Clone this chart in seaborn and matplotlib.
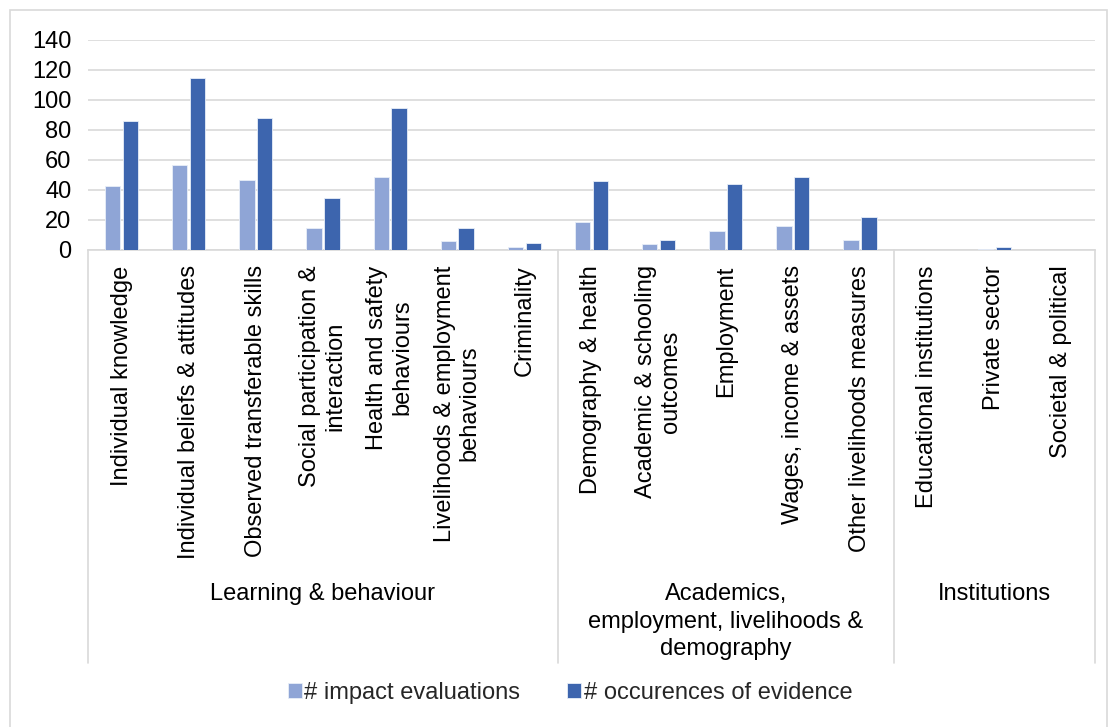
import pandas as pd
import matplotlib.pyplot as plt
import seaborn as sns
from matplotlib.patches import Rectangle

# chart data
categories = [
    "Individual knowledge", "Individual beliefs & attitudes", "Observed transferable skills",
    "Social participation &\ninteraction", "Health and safety\nbehaviours",
    "Livelihoods & employment\nbehaviours", "Criminality",
    "Demography & health", "Academic & schooling\noutcomes", "Employment",
    "Wages, income & assets", "Other livelihoods measures",
    "Educational institutions", "Private sector", "Societal & political",
]
impact_evaluations = [43, 57, 47, 15, 49, 6, 2, 19, 4, 13, 16, 7, 0, 1, 0]
occurences_of_evidence = [86, 115, 88, 35, 95, 15, 5, 46, 7, 44, 49, 22, 0, 2, 0]
groups = ["Learning & behaviour", "Academics,\nemployment, livelihoods &\ndemography", "Institutions"]
group_sizes = [7, 5, 3]
series_names = ["# impact evaluations", "# occurences of evidence"]

df = pd.DataFrame({
    "category": categories * 2,
    "value": impact_evaluations + occurences_of_evidence,
    "series": [series_names[0]] * len(categories) + [series_names[1]] * len(categories),
})

sns.set_theme(style="white")
plt.rcParams["font.family"] = ["Liberation Sans", "DejaVu Sans"]
fs = 17
grey = "#D9D9D9"

fig = plt.figure(figsize=(11.09, 7.27), dpi=100)
W, H = 1109, 727
ax = fig.add_axes([88 / W, 1 - 250 / H, (1095 - 88) / W, 210 / H])

sns.barplot(data=df, x="category", y="value", hue="series", order=categories,
            palette=["#8FA5D6", "#3D65AE"], saturation=1, width=0.53, gap=0.14,
            edgecolor="#E8EEF8", linewidth=0.6, ax=ax, zorder=3)

ax.set_xlim(-0.5, len(categories) - 0.5)
ax.set_ylim(0, 140)
ax.set_yticks(range(0, 141, 20))
ax.yaxis.grid(True, color=grey, linewidth=1.2, zorder=0)
ax.set_axisbelow(True)
ax.set_xlabel("")
ax.set_ylabel("")
for s in ["left", "top", "right"]:
    ax.spines[s].set_visible(False)
ax.spines["bottom"].set_color(grey)
ax.spines["bottom"].set_linewidth(1.2)
ax.tick_params(axis="y", length=0, pad=12, labelsize=fs, labelcolor="black")
ax.tick_params(axis="x", length=0, pad=11)
ax.set_xticks(range(len(categories)))
ax.set_xticklabels(categories, rotation=90, fontsize=fs, ha="right", va="center",
                   rotation_mode="anchor", multialignment="center", color="black")

# group separators and labels
trans = ax.get_xaxis_transform()
bottom = -(663 - 250) / 210
edges = [-0.5]
for size in group_sizes:
    edges.append(edges[-1] + size)
for e in edges:
    ax.plot([e, e], [0, bottom], transform=trans, color=grey, linewidth=1.2, clip_on=False)
for i, g in enumerate(groups):
    mid = (edges[i] + edges[i + 1]) / 2
    ax.text(mid, -(583 - 250) / 210, g, transform=trans, ha="center", va="top",
            fontsize=fs, linespacing=1.33, color="black")

# legend
handles, labels = ax.get_legend_handles_labels()
ax.legend_.remove()
fig.legend(handles, labels, loc="center", bbox_to_anchor=(570 / W, 1 - 693 / H), ncol=2,
           frameon=False, fontsize=fs, handlelength=0.6, handleheight=0.6,
           handletextpad=0.1, columnspacing=2.0)

# chart border
fig.patches.append(Rectangle((10 / W, -0.01), 1097 / W, 1.01 - 10 / H, transform=fig.transFigure,
                             fill=False, edgecolor=grey, linewidth=1.2))

fig.savefig("out.png", dpi=100)
